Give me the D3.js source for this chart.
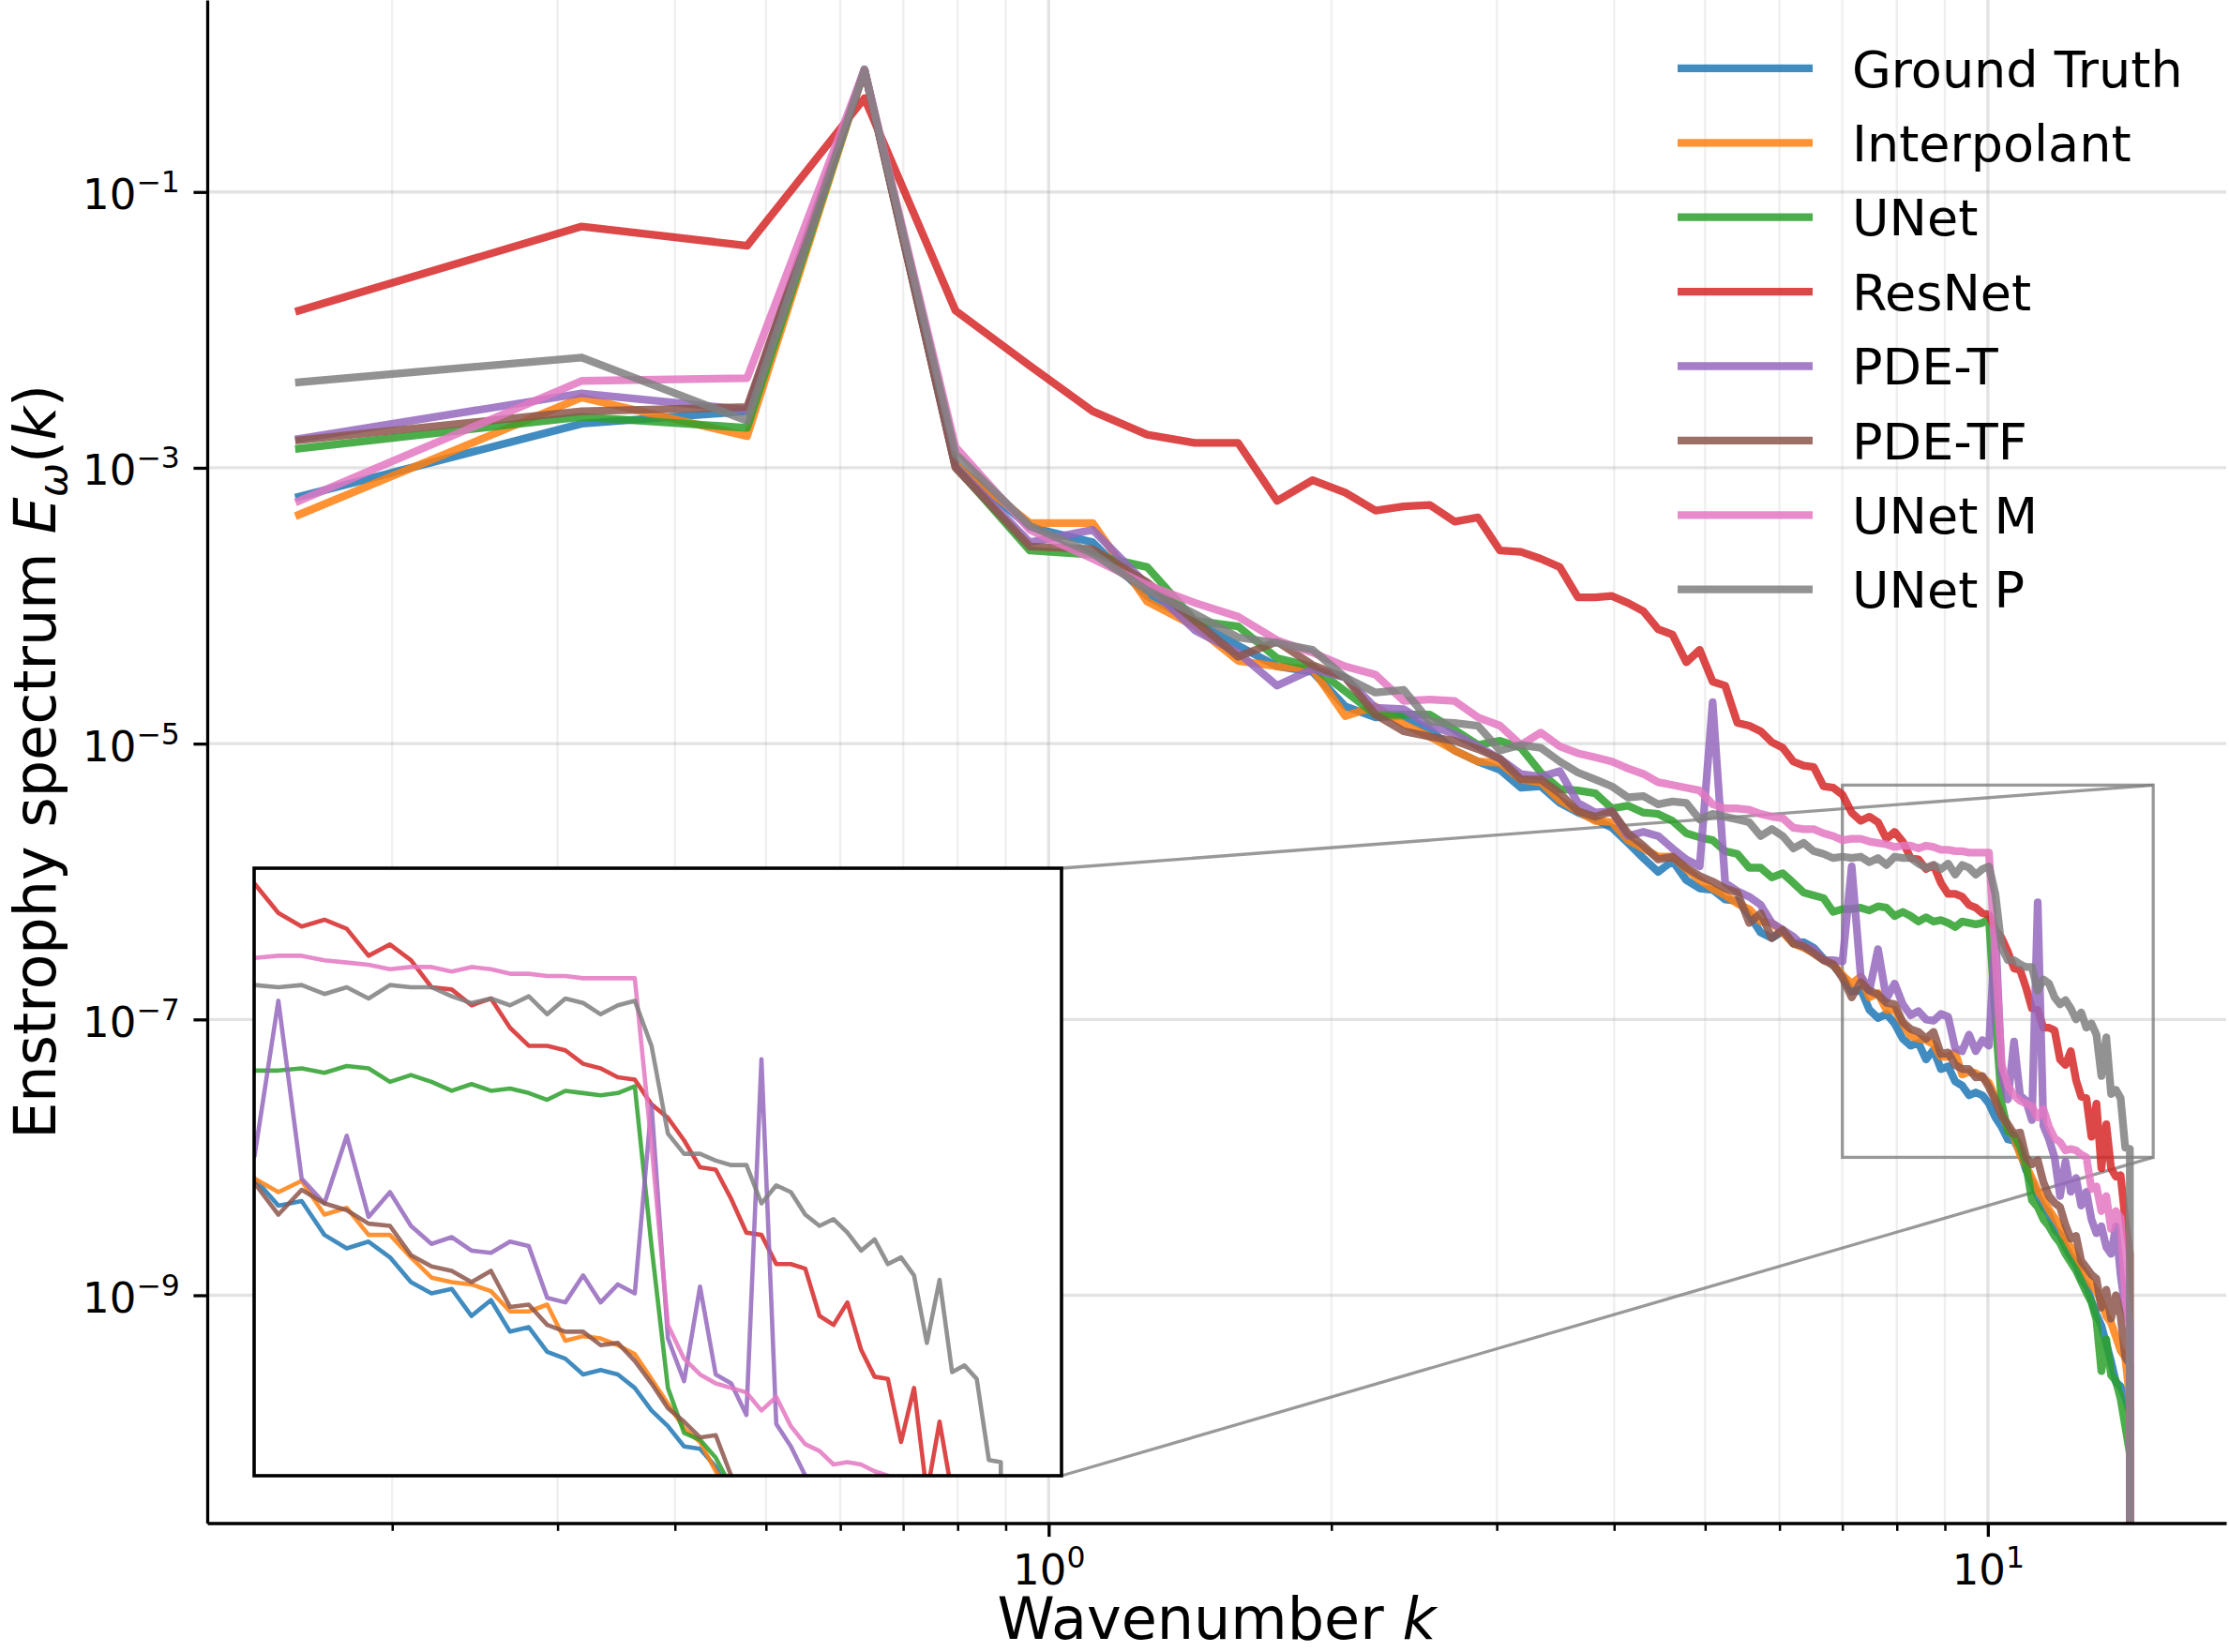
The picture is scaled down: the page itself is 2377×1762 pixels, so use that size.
<!DOCTYPE html>
<html>
<head>
<meta charset="utf-8">
<script src="https://cdn.jsdelivr.net/npm/d3@7"></script>
<style>
  body { margin: 0; background: #fff; }
  svg { display: block; }
  text { font-family: "DejaVu Sans", sans-serif; fill: #000; }
</style>
</head>
<body>
<svg id="chart" width="2377" height="1762"></svg>
<script>
// Enstrophy spectra, stored as log10 E(k) for the modes n = 1..90 (k = n / 2π).
// The last mode is exactly zero in every run (null), matplotlib clips it to the bottom.
const groundTruth = [
  -3.21, -2.68, -2.59, -0.11, -2.98, -3.43, -3.54, -3.93, -4.12, -4.29,
  -4.44, -4.48, -4.73, -4.81, -4.80, -4.90, -5.05, -5.13, -5.19, -5.32,
  -5.31, -5.43, -5.50, -5.55, -5.61, -5.72, -5.83, -5.93, -5.85, -5.99,
  -6.05, -6.06, -6.13, -6.14, -6.24, -6.37, -6.41, -6.36, -6.45, -6.44,
  -6.48, -6.56, -6.61, -6.68, -6.80, -6.78, -6.93, -6.99, -6.96, -7.03,
  -7.14, -7.19, -7.17, -7.29, -7.22, -7.36, -7.34, -7.45, -7.48, -7.55,
  -7.53, -7.55, -7.61, -7.71, -7.78, -7.87, -7.88, -7.96, -8.09, -8.18,
  -8.28, -8.36, -8.41, -8.52, -8.56, -8.65, -8.72, -8.78, -8.88, -8.93,
  -9.04, -9.14, -9.22, -9.35, -9.48, -9.63, -9.66, -9.74, -9.85, null];
const interpolant = [
  -3.34, -2.49, -2.77, -0.115, -2.98, -3.40, -3.40, -3.97, -4.15, -4.40,
  -4.44, -4.46, -4.80, -4.73, -4.86, -4.95, -5.05, -5.13, -5.14, -5.26,
  -5.28, -5.41, -5.49, -5.56, -5.57, -5.70, -5.76, -5.82, -5.82, -5.91,
  -5.99, -6.05, -6.10, -6.16, -6.20, -6.29, -6.30, -6.37, -6.45, -6.48,
  -6.52, -6.57, -6.60, -6.68, -6.74, -6.69, -6.84, -6.81, -6.93, -6.93,
  -7.03, -7.12, -7.14, -7.15, -7.18, -7.27, -7.27, -7.24, -7.40, -7.38,
  -7.39, -7.42, -7.46, -7.57, -7.68, -7.79, -7.85, -7.98, -8.06, -8.15,
  -8.24, -8.30, -8.38, -8.44, -8.50, -8.60, -8.65, -8.72, -8.80, -8.85,
  -8.92, -8.97, -9.05, -9.15, -9.20, -9.30, -9.40, -9.45, -9.75, null];
const unet = [
  -2.86, -2.63, -2.71, -0.115, -2.99, -3.60, -3.63, -3.72, -4.11, -4.15,
  -4.38, -4.44, -4.62, -4.79, -4.79, -4.79, -4.90, -5.01, -4.98, -5.03,
  -5.21, -5.33, -5.34, -5.36, -5.47, -5.45, -5.50, -5.51, -5.56, -5.65,
  -5.68, -5.70, -5.78, -5.80, -5.90, -5.90, -5.97, -5.94, -6.01, -6.08,
  -6.10, -6.12, -6.22, -6.20, -6.20, -6.19, -6.21, -6.18, -6.19, -6.25,
  -6.22, -6.25, -6.29, -6.26, -6.29, -6.28, -6.30, -6.33, -6.29, -6.30,
  -6.31, -6.30, -6.27, -6.98, -7.61, -7.81, -7.84, -7.92, -8.05, -8.31,
  -8.36, -8.45, -8.50, -8.57, -8.62, -8.70, -8.76, -8.82, -8.90, -8.98,
  -9.05, -9.18, -9.55, -9.32, -9.58, -9.62, -9.75, -9.95, -10.15, null];
const resnet = [
  -1.86, -1.25, -1.39, -0.32, -1.86, -2.26, -2.59, -2.76, -2.82, -2.82,
  -3.24, -3.09, -3.18, -3.31, -3.28, -3.27, -3.39, -3.36, -3.60, -3.61,
  -3.66, -3.72, -3.94, -3.94, -3.93, -3.98, -4.04, -4.17, -4.21, -4.41,
  -4.32, -4.55, -4.58, -4.85, -4.87, -4.91, -4.99, -5.03, -5.13, -5.16,
  -5.17, -5.31, -5.32, -5.37, -5.50, -5.56, -5.53, -5.57, -5.69, -5.64,
  -5.71, -5.83, -5.84, -5.91, -5.88, -6.01, -6.09, -6.09, -6.11, -6.17,
  -6.19, -6.23, -6.24, -6.35, -6.41, -6.51, -6.63, -6.64, -6.77, -6.92,
  -6.93, -7.06, -7.06, -7.08, -7.29, -7.33, -7.23, -7.44, -7.56, -7.57,
  -7.85, -7.61, -8.08, -7.76, -8.08, -8.14, -8.13, -8.45, -8.70, null];
const pdeT = [
  -2.79, -2.46, -2.58, -0.115, -2.99, -3.54, -3.45, -3.85, -4.18, -4.34,
  -4.58, -4.46, -4.52, -4.74, -4.75, -4.87, -4.93, -5.02, -5.11, -5.22,
  -5.24, -5.20, -5.43, -5.50, -5.49, -5.67, -5.64, -5.67, -5.76, -5.84,
  -5.89, -4.70, -6.01, -6.07, -6.11, -6.17, -6.30, -6.35, -6.40, -6.47,
  -6.49, -6.57, -6.57, -6.58, -5.89, -6.68, -6.79, -6.49, -6.85, -6.74,
  -6.89, -6.97, -6.94, -7.00, -7.01, -6.96, -6.98, -7.21, -7.23, -7.11,
  -7.23, -7.15, -7.19, -6.35, -7.39, -7.58, -7.16, -7.55, -7.59, -7.73,
  -6.15, -7.77, -7.87, -8.00, -8.28, -8.03, -8.25, -8.15, -8.35, -8.25,
  -8.45, -8.55, -8.50, -8.65, -8.70, -8.50, -8.85, -9.10, -9.20, null];
const pdeTF = [
  -2.80, -2.59, -2.56, -0.12, -3.00, -3.57, -3.59, -3.83, -4.11, -4.37,
  -4.26, -4.43, -4.52, -4.79, -4.91, -4.95, -4.98, -5.04, -5.11, -5.26,
  -5.26, -5.36, -5.49, -5.53, -5.49, -5.65, -5.74, -5.84, -5.82, -5.90,
  -5.96, -6.00, -6.05, -6.08, -6.30, -6.23, -6.41, -6.35, -6.45, -6.47,
  -6.52, -6.57, -6.60, -6.70, -6.84, -6.73, -6.79, -6.82, -6.88, -6.89,
  -7.02, -7.07, -7.09, -7.14, -7.09, -7.25, -7.24, -7.33, -7.36, -7.36,
  -7.42, -7.41, -7.49, -7.59, -7.70, -7.76, -7.83, -7.82, -8.00, -8.05,
  -8.02, -8.18, -8.28, -8.33, -8.36, -8.49, -8.59, -8.57, -8.75, -8.80,
  -8.85, -8.88, -9.09, -8.96, -9.17, -9.00, -9.15, -9.45, -9.50, null];
const unetM = [
  -3.24, -2.37, -2.35, -0.115, -2.85, -3.45, -3.66, -3.85, -3.98, -4.08,
  -4.25, -4.34, -4.44, -4.50, -4.69, -4.68, -4.69, -4.81, -4.87, -5.01,
  -4.92, -5.02, -5.07, -5.10, -5.13, -5.18, -5.22, -5.28, -5.30, -5.32,
  -5.34, -5.44, -5.47, -5.47, -5.48, -5.51, -5.53, -5.54, -5.61, -5.62,
  -5.62, -5.65, -5.67, -5.70, -5.69, -5.69, -5.71, -5.72, -5.73, -5.75,
  -5.74, -5.74, -5.76, -5.74, -5.75, -5.77, -5.77, -5.78, -5.78, -5.79,
  -5.79, -5.79, -5.79, -6.53, -7.33, -7.48, -7.55, -7.59, -7.61, -7.63,
  -7.71, -7.65, -7.78, -7.86, -7.89, -7.95, -7.94, -7.95, -7.98, -8.00,
  -8.23, -8.21, -8.39, -8.28, -8.52, -8.39, -8.44, -9.00, -9.25, null];
const unetP = [
  -2.38, -2.20, -2.66, -0.12, -2.90, -3.42, -3.62, -3.89, -4.06, -4.23,
  -4.27, -4.32, -4.52, -4.63, -4.61, -4.84, -4.85, -4.87, -5.05, -5.01,
  -5.03, -5.13, -5.21, -5.26, -5.31, -5.39, -5.38, -5.44, -5.42, -5.43,
  -5.55, -5.51, -5.53, -5.55, -5.57, -5.67, -5.62, -5.67, -5.76, -5.72,
  -5.78, -5.80, -5.83, -5.82, -5.83, -5.82, -5.86, -5.83, -5.88, -5.82,
  -5.83, -5.83, -5.87, -5.90, -5.88, -5.91, -5.87, -5.95, -5.88, -5.90,
  -5.95, -5.91, -5.89, -6.09, -6.48, -6.57, -6.57, -6.60, -6.62, -6.62,
  -6.79, -6.71, -6.74, -6.84, -6.89, -6.86, -6.92, -7.00, -6.95, -7.06,
  -7.03, -7.11, -7.41, -7.13, -7.54, -7.51, -7.57, -7.93, -7.94, null];

const seriesNames = ["Ground Truth", "Interpolant", "UNet", "ResNet", "PDE-T", "PDE-TF", "UNet M", "UNet P"];
const seriesColors = ["#1f77b4", "#ff7f0e", "#2ca02c", "#d62728", "#9467bd", "#8c564b", "#e377c2", "#7f7f7f"];
const spectra = [groundTruth, interpolant, unet, resnet, pdeT, pdeTF, unetM, unetP];

const xMajorTicks = [1, 10];
const xMinorTicks = [0.2, 0.3, 0.4, 0.5, 0.6, 0.7, 0.8, 0.9, 2, 3, 4, 5, 6, 7, 8, 9];
const yMajorTicks = [1e-1, 1e-3, 1e-5, 1e-7, 1e-9];
const insetXLim = [7, 15];
const insetYLim = [1e-8, 5e-6];

// wavenumber of each mode
const wavenumbers = d3.range(1, groundTruth.length + 1).map(n => n / (2 * Math.PI));

const svg = d3.select("#chart");
const plot = { left: 221, right: 2374, top: 0, bottom: 1624.5 };
const inset = { left: 271, right: 1132, top: 926, bottom: 1574 };

// matplotlib style 5% margins in log space
let padLog = ext => {
  let pad = 0.05 * (ext[1] - ext[0]);
  return [Math.pow(10, ext[0] - pad), Math.pow(10, ext[1] + pad)];
};

let xScale = d3.scaleLog()
  .domain(padLog(d3.extent(wavenumbers, Math.log10)))
  .range([plot.left, plot.right]);

let yScale = d3.scaleLog()
  .domain(padLog(d3.extent(spectra.flat().filter(v => v !== null))))
  .range([plot.bottom, plot.top]);

let xInset = d3.scaleLog().domain(insetXLim).range([inset.left, inset.right]);
let yInset = d3.scaleLog().domain(insetYLim).range([inset.bottom, inset.top]);

let toPoints = values => values.map((v, i) => ({
  k: wavenumbers[i],
  e: v === null ? 1e-300 : Math.pow(10, v)   // zero energy clipped like matplotlib
}));

let defs = svg.append("defs");
defs.append("clipPath").attr("id", "mainClip")
  .append("rect")
  .attr("x", plot.left).attr("y", plot.top)
  .attr("width", plot.right - plot.left).attr("height", plot.bottom - plot.top);
defs.append("clipPath").attr("id", "insetClip")
  .append("rect")
  .attr("x", inset.left).attr("y", inset.top)
  .attr("width", inset.right - inset.left).attr("height", inset.bottom - inset.top);

// grid
let grid = svg.append("g");
grid.selectAll(".vminor").data(xMinorTicks).join("line")
  .attr("x1", d => xScale(d)).attr("x2", d => xScale(d))
  .attr("y1", plot.top).attr("y2", plot.bottom)
  .attr("stroke", "#b0b0b0").attr("stroke-opacity", 0.2).attr("stroke-width", 2.4);
grid.selectAll(".vmajor").data(xMajorTicks).join("line")
  .attr("x1", d => xScale(d)).attr("x2", d => xScale(d))
  .attr("y1", plot.top).attr("y2", plot.bottom)
  .attr("stroke", "#b0b0b0").attr("stroke-opacity", 0.35).attr("stroke-width", 3.3);
grid.selectAll(".hmajor").data(yMajorTicks).join("line")
  .attr("x1", plot.left).attr("x2", plot.right)
  .attr("y1", d => yScale(d)).attr("y2", d => yScale(d))
  .attr("stroke", "#b0b0b0").attr("stroke-opacity", 0.35).attr("stroke-width", 3.3);

// zoom indicator and connectors (drawn under the curves)
let zoomBox = svg.append("g").attr("fill", "none").attr("stroke", "#808080")
  .attr("stroke-opacity", 0.8).attr("stroke-width", 3.3);
zoomBox.append("rect")
  .attr("x", xScale(insetXLim[0])).attr("y", yScale(insetYLim[1]))
  .attr("width", xScale(insetXLim[1]) - xScale(insetXLim[0]))
  .attr("height", yScale(insetYLim[0]) - yScale(insetYLim[1]));
zoomBox.append("line")
  .attr("x1", inset.right).attr("y1", inset.top)
  .attr("x2", xScale(insetXLim[1])).attr("y2", yScale(insetYLim[1]));
zoomBox.append("line")
  .attr("x1", inset.right).attr("y1", inset.bottom)
  .attr("x2", xScale(insetXLim[1])).attr("y2", yScale(insetYLim[0]));

// main curves
let mainLine = d3.line().x(d => xScale(d.k)).y(d => yScale(d.e));
svg.append("g").attr("clip-path", "url(#mainClip)")
  .selectAll("path").data(spectra).join("path")
  .attr("d", d => mainLine(toPoints(d)))
  .attr("fill", "none")
  .attr("stroke", (d, i) => seriesColors[i])
  .attr("stroke-opacity", 0.85)
  .attr("stroke-width", 8.3)
  .attr("stroke-linejoin", "round")
  .attr("stroke-linecap", "square");

// axes
let sup = (text, exponent, size) => {
  text.text("10");
  text.append("tspan")
    .attr("dy", -0.4 * size)
    .attr("font-size", 0.7 * size)
    .text(exponent < 0 ? "\u2212" + Math.abs(exponent) : String(exponent));
};
const tickFont = 45;

let xAxis = svg.append("g").attr("transform", `translate(0,${plot.bottom})`)
  .call(d3.axisBottom(xScale).tickValues(xMajorTicks).tickSize(14.6).tickSizeOuter(0));
let xMinor = svg.append("g").attr("transform", `translate(0,${plot.bottom})`)
  .call(d3.axisBottom(xScale).tickValues(xMinorTicks).tickSize(8.3).tickSizeOuter(0).tickFormat(""));
xMinor.select(".domain").remove();
xMinor.selectAll(".tick line").attr("stroke-width", 2.5);
xAxis.selectAll(".tick line").attr("stroke-width", 3.3);
xAxis.select(".domain").attr("stroke-width", 3.3);
xAxis.selectAll(".tick text")
  .attr("y", 65.5).attr("dy", 0)
  .attr("font-size", tickFont).attr("font-family", null)
  .each(function(d) { sup(d3.select(this), Math.round(Math.log10(d)), tickFont); });

let yAxis = svg.append("g").attr("transform", `translate(${plot.left},0)`)
  .call(d3.axisLeft(yScale).tickValues(yMajorTicks).tickSize(14.6).tickPadding(14.6).tickSizeOuter(0));
yAxis.selectAll(".tick line").attr("stroke-width", 3.3);
yAxis.select(".domain").attr("stroke-width", 3.3);
yAxis.selectAll(".tick text")
  .attr("dy", 0).attr("y", 18)
  .attr("font-size", tickFont).attr("font-family", null)
  .each(function(d) { sup(d3.select(this), Math.round(Math.log10(d)), tickFont); });

// axis labels
const labelFont = 62;
let xLabel = svg.append("text")
  .attr("x", (plot.left + plot.right) / 2).attr("y", 1748)
  .attr("text-anchor", "middle").attr("font-size", labelFont);
xLabel.append("tspan").text("Wavenumber ");
xLabel.append("tspan").attr("font-style", "italic").text("k");

let yLabel = svg.append("text")
  .attr("transform", `translate(59,${(plot.top + plot.bottom) / 2}) rotate(-90)`)
  .attr("text-anchor", "middle").attr("font-size", labelFont);
yLabel.append("tspan").text("Enstrophy spectrum ");
yLabel.append("tspan").attr("font-style", "italic").text("E");
yLabel.append("tspan").attr("font-style", "italic").attr("font-size", 0.7 * labelFont)
  .attr("dy", 0.2 * labelFont).text("\u03c9");
yLabel.append("tspan").attr("dy", -0.2 * labelFont).text("(");
yLabel.append("tspan").attr("font-style", "italic").text("k");
yLabel.append("tspan").text(")");

// legend
const legendFont = 54;
let legend = svg.append("g");
let rows = legend.selectAll("g").data(seriesNames).join("g")
  .attr("transform", (d, i) => `translate(0,${72.9 + 79.4 * i})`);
rows.append("line")
  .attr("x1", 1789).attr("x2", 1933)
  .attr("stroke", (d, i) => seriesColors[i])
  .attr("stroke-opacity", 0.85)
  .attr("stroke-width", 8.3);
rows.append("text")
  .attr("x", 1975).attr("y", 0.3645 * legendFont)
  .attr("font-size", legendFont)
  .text(d => d);

// inset
let insetG = svg.append("g");
insetG.append("rect")
  .attr("x", inset.left).attr("y", inset.top)
  .attr("width", inset.right - inset.left).attr("height", inset.bottom - inset.top)
  .attr("fill", "#fff");
let insetLine = d3.line().x(d => xInset(d.k)).y(d => yInset(d.e));
insetG.append("g").attr("clip-path", "url(#insetClip)")
  .selectAll("path").data(spectra).join("path")
  .attr("d", d => insetLine(toPoints(d)))
  .attr("fill", "none")
  .attr("stroke", (d, i) => seriesColors[i])
  .attr("stroke-opacity", 0.85)
  .attr("stroke-width", 4.6)
  .attr("stroke-linejoin", "round")
  .attr("stroke-linecap", "square");
insetG.append("rect")
  .attr("x", inset.left).attr("y", inset.top)
  .attr("width", inset.right - inset.left).attr("height", inset.bottom - inset.top)
  .attr("fill", "none").attr("stroke", "#000").attr("stroke-width", 3.6);
</script>
</body>
</html>
